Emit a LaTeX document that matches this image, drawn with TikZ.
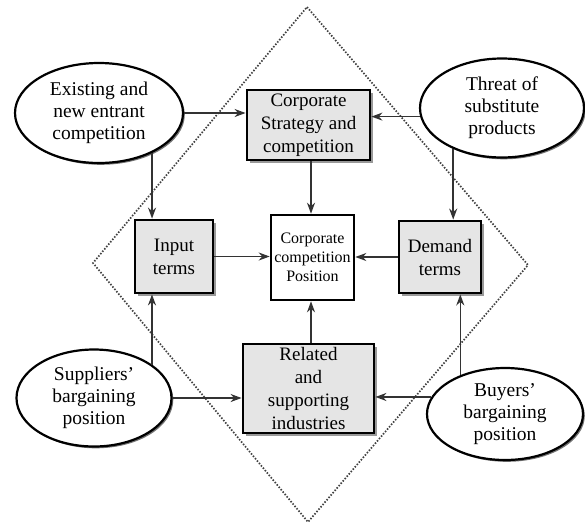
\documentclass[tikz,border=0pt]{standalone}
\usepackage{fontspec}
\setmainfont{Liberation Serif}
\usetikzlibrary{shapes.geometric,arrows.meta,shadows}
\begin{document}
\begin{tikzpicture}[x=1pt,y=-1pt,
  boxshadow/.style={drop shadow={shadow xshift=2.5pt,shadow yshift=-2.5pt,fill=black!40,opacity=1}},
  factor/.style={draw=black,line width=2.8pt,fill=black!10,align=center,inner sep=0pt,
    font=\fontsize{19}{23}\selectfont,boxshadow},
  core/.style={draw=black,line width=2.6pt,fill=white,align=center,inner sep=0pt,
    font=\fontsize{16}{19}\selectfont},
  force/.style={ellipse,draw=black,line width=2.2pt,fill=white,align=center,inner sep=0pt,
    font=\fontsize{19.5}{22}\selectfont,
    drop shadow={shadow xshift=1.8pt,shadow yshift=-1.8pt,fill=black!55,opacity=1}},
  arr/.style={-{Stealth[length=11pt,width=8pt,inset=3.5pt]},line width=1.6pt,draw=black!80},
  frontier/.style={line width=1.7pt,draw=black!75,dash pattern=on 1.5pt off 1.6pt}
]
\useasboundingbox (0,0) rectangle (585,525);

% dotted diamond frame
\coordinate (dt) at (307,7);
\coordinate (dr) at (528,265);
\coordinate (db) at (308,522);
\coordinate (dl) at (93,263);
\draw[frontier] (dt) -- (dr) -- (db) -- (dl) -- cycle;

% central box and the four determinants
\node[core,minimum width=83pt,minimum height=85pt] (cen) at (312.5,257.5)
  {Corporate\\competition\\Position};
\node[factor,minimum width=123pt,minimum height=70pt] (strat) at (308.5,125)
  {Corporate\\Strategy and\\competition};
\node[factor,minimum width=78pt,minimum height=73pt] (in) at (174,256.5)
  {Input\\terms};
\node[factor,minimum width=82pt,minimum height=72pt] (dem) at (440,257)
  {Demand\\terms};
\node[factor,minimum width=131pt,minimum height=89pt] (rel) at (308.5,388.5)
  {Related\\and\\supporting\\industries};

% outer forces
\node[force,minimum width=168pt,minimum height=100pt] (ex) at (99,113)
  {Existing and\\new entrant\\competition};
\node[force,minimum width=164pt,minimum height=99pt] (th) at (502,108)
  {Threat of\\substitute\\products};
\node[force,minimum width=155pt,minimum height=97pt] (sup) at (94,398)
  {Suppliers'\\bargaining\\position};
\node[force,minimum width=156pt,minimum height=92pt] (bu) at (505,414)
  {Buyers'\\bargaining\\position};

% connectors
\draw[arr] (ex.east) -- (ex.east -| strat.west);
\draw[arr] (ex.-37) -- (ex.-37 |- in.north);
\draw[arr] (th.186) -- (th.186 -| strat.east);
\draw[arr] (th.-140) -- (th.-140 |- dem.north);
\draw[arr] (sup.30) -- (sup.30 |- in.south);
\draw[arr] (sup.east) -- (sup.east -| rel.west);
\draw[arr] (bu.139) -- (bu.139 |- dem.south);
\draw[arr] (bu.167) -- (bu.167 -| rel.east);
\draw[arr] (strat.south -| cen.north) ++(-1.5,0) coordinate (sa) -- (sa |- cen.north);
\draw[arr] (rel.north -| cen.south) ++(-1.5,0) coordinate (ra) -- (ra |- cen.south);
\draw[arr] (in.east) -- (in.east -| cen.west);
\draw[arr] (dem.west) -- (dem.west -| cen.east);
\end{tikzpicture}
\end{document}
